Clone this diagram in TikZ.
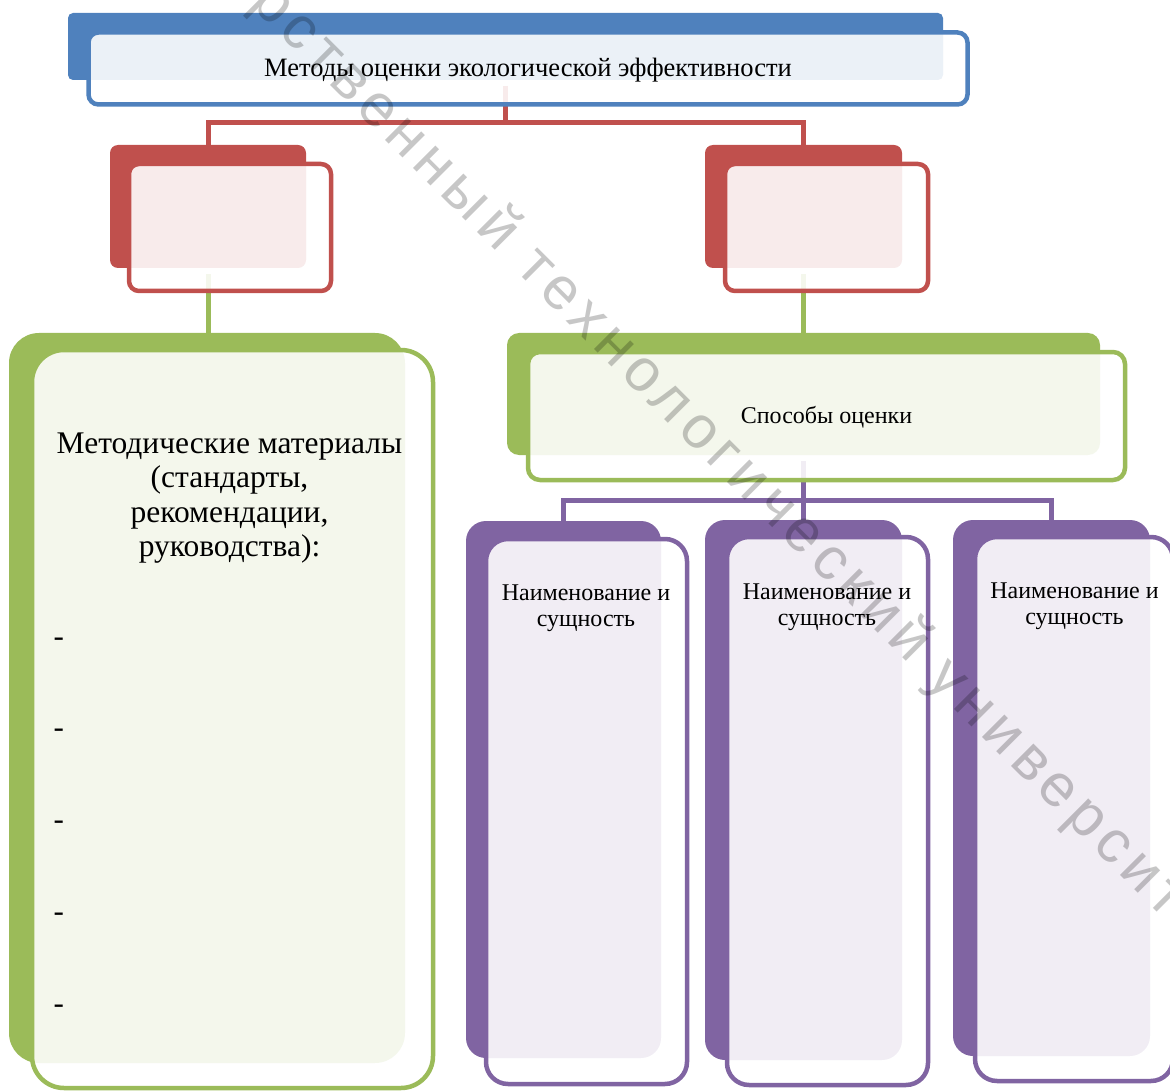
\documentclass[tikz,border=0pt]{standalone}
\usepackage{fontspec}
\setmainfont{Liberation Serif}
\newfontfamily\wmfont[LetterSpace=11]{Liberation Sans}
\definecolor{blueD}{HTML}{4F81BD}
\definecolor{redD}{HTML}{C0504D}
\definecolor{greenD}{HTML}{9BBB59}
\definecolor{purpD}{HTML}{8064A2}
\begin{document}
\begin{tikzpicture}[x=1pt,y=-1pt,
  boxbase/.style={rectangle, inner sep=0pt, outer sep=0pt},
  backbox/.style={boxbase, fill=#1},
  frontbox/.style={boxbase, draw=#1, line width=4.5pt, fill=white, fill opacity=0.89},
  conn/.style={draw=#1, line width=5pt},
  lbl/.style={font=\fontsize{24}{25.5}\selectfont, align=center, text=black},
  dashlbl/.style={anchor=base west, font=\fontsize{31}{34.5}\selectfont, text=black},
]
\useasboundingbox (0,0) rectangle (1170,1091);

% back shapes
\node[backbox=blueD, rounded corners=5pt, minimum width=875pt, minimum height=67pt] (titleB) at (505.5,46.5) {};
\node[backbox=redD, rounded corners=8pt, minimum width=196pt, minimum height=123pt] (redLB) at (208,206.5) {};
\node[backbox=redD, rounded corners=8pt, minimum width=197pt, minimum height=123pt] (redRB) at (803.5,206.5) {};
\node[backbox=greenD, rounded corners=30pt, minimum width=396pt, minimum height=730pt] (grnLB) at (207,698) {};
\node[backbox=greenD, rounded corners=12pt, minimum width=593pt, minimum height=122pt] (grnRB) at (803.5,394) {};
\node[backbox=purpD, rounded corners=20pt, minimum width=195pt, minimum height=537pt] (p1B) at (563.5,789.5) {};
\node[backbox=purpD, rounded corners=20pt, minimum width=197pt, minimum height=540pt] (p2B) at (803.5,790) {};
\node[backbox=purpD, rounded corners=20pt, minimum width=197pt, minimum height=536pt] (p3B) at (1051.5,788) {};

% connectors
\draw[conn=redD] ([yshift=-6pt]titleB.south) -- ++(0,37) -| (redLB.north);
\draw[conn=redD] ([yshift=-6pt]titleB.south) -- ++(0,37) -| (redRB.north);
\draw[conn=greenD] ([yshift=-6pt]redLB.south) -- (redLB.south |- grnLB.north);
\draw[conn=greenD] ([yshift=-6pt]redRB.south) -- (grnRB.north);
\draw[conn=purpD] ([yshift=-6pt]grnRB.south) -- ++(0,39) -| (p1B.north);
\draw[conn=purpD] ([yshift=-6pt]grnRB.south) -- ++(0,39) -| (p2B.north);
\draw[conn=purpD] ([yshift=-6pt]grnRB.south) -- ++(0,39) -| (p3B.north);

% front shapes
\node[frontbox=blueD, rounded corners=10pt, minimum width=879pt, minimum height=72pt] (titleF) at (528,68.5) {};
\node[frontbox=redD, rounded corners=10pt, minimum width=202pt, minimum height=127pt] (redLF) at (230,227.5) {};
\node[frontbox=redD, rounded corners=10pt, minimum width=203pt, minimum height=127pt] (redRF) at (826.5,227.5) {};
\node[frontbox=greenD, rounded corners=32pt, minimum width=401pt, minimum height=738pt] (grnLF) at (232.5,719) {};
\node[frontbox=greenD, rounded corners=12pt, minimum width=597pt, minimum height=128pt] (grnRF) at (826.5,416) {};
\node[frontbox=purpD, rounded corners=22pt, minimum width=201pt, minimum height=545pt] (p1F) at (586.5,811.5) {};
\node[frontbox=purpD, rounded corners=22pt, minimum width=201pt, minimum height=548pt] (p2F) at (827.5,811) {};
\node[frontbox=purpD, rounded corners=22pt, minimum width=198pt, minimum height=544pt] (p3F) at (1074,809) {};

% texts
\node[anchor=base, font=\fontsize{26.5}{30}\selectfont] (titleT) at (528,77) {Методы оценки экологической эффективности};
\node[anchor=base, font=\fontsize{24}{26}\selectfont] (grnRT) at (826.5,423) {Способы оценки};
\node[align=center, font=\fontsize{31.5}{34.5}\selectfont] (grnLT) at (229.5,498) {Методические материалы\\(стандарты,\\рекомендации,\\руководства):};
\node[dashlbl] (d1) at (50,646) {-};
\node[dashlbl] (d2) at (50,737) {-};
\node[dashlbl] (d3) at (50,829) {-};
\node[dashlbl] (d4) at (50,921) {-};
\node[dashlbl] (d5) at (50,1013) {-};
\node[lbl] (p1T) at (586,608) {Наименование и\\сущность};
\node[lbl] (p2T) at (827,607) {Наименование и\\сущность};
\node[lbl] (p3T) at (1074.5,606) {Наименование и\\сущность};

% watermark
\node[anchor=base west, rotate=-45, opacity=0.22, text=black, font=\wmfont\fontsize{60}{60}\selectfont] (wm) at (247,2) {рственный технологический университет};
\end{tikzpicture}
\end{document}
